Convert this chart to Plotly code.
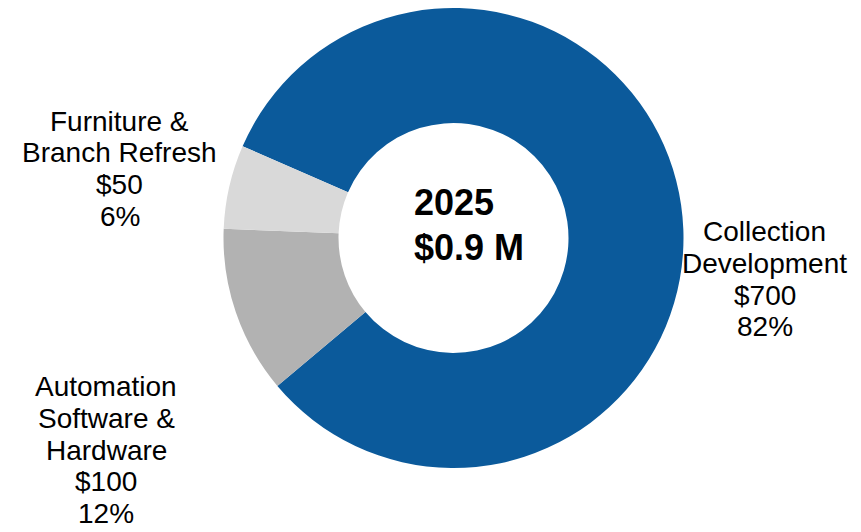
import plotly.graph_objects as go

# ---- data ----
categories = ["Collection Development", "Automation Software & Hardware", "Furniture & Branch Refresh"]
category_lines = [["Collection", "Development"], ["Automation", "Software &", "Hardware"], ["Furniture &", "Branch Refresh"]]
values = [700, 100, 50]  # $ thousands
colors = ["#0B5A9B", "#B2B2B2", "#D9D9D9"]
center_lines = ["2025", "$0.9 M"]

# page has an 8px body margin; figure fills the rest of the 861x532 window
OFF = 8
W, H = 861 - OFF, 532 - OFF
total = sum(values)
pcts = [round(v / total * 100) for v in values]

# ---- layout constants (window pixels) ----
cx, cy, R = 453.5, 238.0, 230.0
label_anchor = [(764.5, 241.5), (106.0, 396.5), (119.7, 131.0)]  # (center x, first baseline y)
line_step = 31.6
label_font = 28
mid_offset = 9.7  # baseline -> box middle


def px2paper(x, y):
    return (x - OFF) / W, 1 - (y - OFF) / H


x0, y1 = px2paper(cx - R, cy - R)
x1, y0 = px2paper(cx + R, cy + R)
y1 = min(y1, 1.0)

fig = go.Figure(
    go.Pie(
        labels=categories,
        values=values,
        hole=0.5,
        sort=False,
        direction="clockwise",
        rotation=293.5,
        marker=dict(colors=colors, line=dict(width=0)),
        textinfo="none",
        textposition="inside",
        hoverinfo="label+value+percent",
        domain=dict(x=[x0, x1], y=[y0, y1]),
        showlegend=False,
    )
)

annotations = []
for i, cat in enumerate(categories):
    lines = category_lines[i] + [f"${values[i]}", f"{pcts[i]}%"]
    ax, ay = label_anchor[i]
    for j, t in enumerate(lines):
        x, y = px2paper(ax, ay + j * line_step - mid_offset)
        annotations.append(
            dict(
                text=t, x=x, y=y, xref="paper", yref="paper",
                xanchor="center", yanchor="middle", showarrow=False,
                font=dict(family="Liberation Sans, Arial, sans-serif", size=label_font, color="#000000"),
            )
        )

center_baselines = [215, 260]
for j, t in enumerate(center_lines):
    x, y = px2paper(412, center_baselines[j] - 12.5)
    annotations.append(
        dict(
            text=f"<b>{t}</b>", x=x, y=y, xref="paper", yref="paper",
            xanchor="left", yanchor="middle", showarrow=False,
            font=dict(family="Liberation Sans, Arial, sans-serif", size=36, color="#000000"),
        )
    )

fig.update_layout(
    width=W, height=H,
    margin=dict(l=0, r=0, t=0, b=0),
    paper_bgcolor="#FFFFFF",
    plot_bgcolor="#FFFFFF",
    annotations=annotations,
)

fig.write_html("out.html")
